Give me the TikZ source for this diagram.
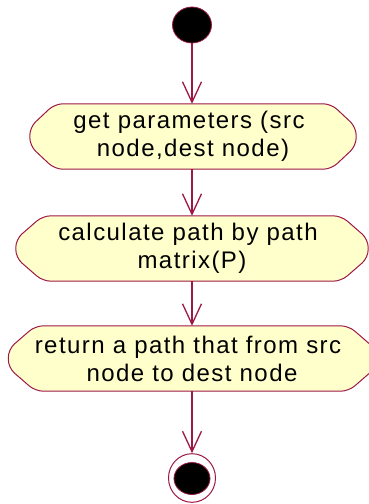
\documentclass[tikz,border=0pt]{standalone}
\usepackage{fontspec}
\usetikzlibrary{arrows.meta,shapes.geometric,backgrounds}
\newfontfamily\actfont[LetterSpace=6]{Liberation Sans}
\definecolor{actline}{RGB}{156,24,72}
\definecolor{actfill}{RGB}{255,255,204}
\tikzset{
  flow/.style={draw=actline, line width=1.3pt, -{Straight Barb[length=20.5pt,width=19pt]}},
  actnode/.style={draw=none, minimum height=65pt, inner sep=0pt, align=center,
    font=\actfont\fontsize{24pt}{28pt}\selectfont},
  actborder/.style={draw=actline, fill=actfill, line width=1pt, rounded corners=8pt},
  startdot/.style={ellipse, draw=actline, fill=black, line width=0.8pt,
    minimum width=39pt, minimum height=36pt, inner sep=0pt},
  endring/.style={ellipse, draw=actline, fill=white, line width=1pt,
    minimum width=47pt, minimum height=48.6pt, inner sep=0pt},
  enddot/.style={ellipse, draw=actline, fill=black, line width=0.8pt,
    minimum width=36pt, minimum height=32pt, inner sep=0pt}
}
% activity outline: flat top and bottom, pointed rounded sides
\newcommand{\actoutline}[2]{%
  \begin{pgfonlayer}{background}
    \path[actborder]
      ([xshift=#2pt]#1.north west) -- ([xshift=-#2pt]#1.north east)
      -- ([yshift=-23.5pt]#1.north east) -- ([yshift=23.5pt]#1.south east)
      -- ([xshift=-#2pt]#1.south east) -- ([xshift=#2pt]#1.south west)
      -- ([yshift=23.5pt]#1.south west) -- ([yshift=-23.5pt]#1.north west)
      -- cycle;
  \end{pgfonlayer}}
% trailing space kept at the end of a wrapped first line
\newcommand{\tailsp}{\hspace*{8pt}}
\begin{document}
\begin{tikzpicture}[x=1pt, y=-1pt]
  \clip (0,0) rectangle (368,504);
  \useasboundingbox (0,0) rectangle (368,504);

  \node[startdot] (start) at (192,25) {};

  \node[actnode, minimum width=326pt] (b1) at (193,136.5)
    {get parameters (src\tailsp\\node,dest node)};
  \actoutline{b1}{25}

  \node[actnode, minimum width=352pt] (b2) at (192,248.5)
    {calculate path by path\tailsp\\matrix(P)};
  \actoutline{b2}{27}

  \node[actnode, minimum width=367pt] (b3) at (192,358.5)
    {return a path that from src\tailsp\\node to dest node};
  \actoutline{b3}{27}

  \node[endring] (end) at (192,478) {};
  \node[enddot] (endin) at (192,478.5) {};

  \draw[flow] (start.south) -- (start.south |- b1.north);
  \draw[flow] (start.south |- b1.south) -- (start.south |- b2.north);
  \draw[flow] (start.south |- b2.south) -- (start.south |- b3.north);
  \draw[flow] (start.south |- b3.south) -- (end.north);
\end{tikzpicture}
\end{document}
